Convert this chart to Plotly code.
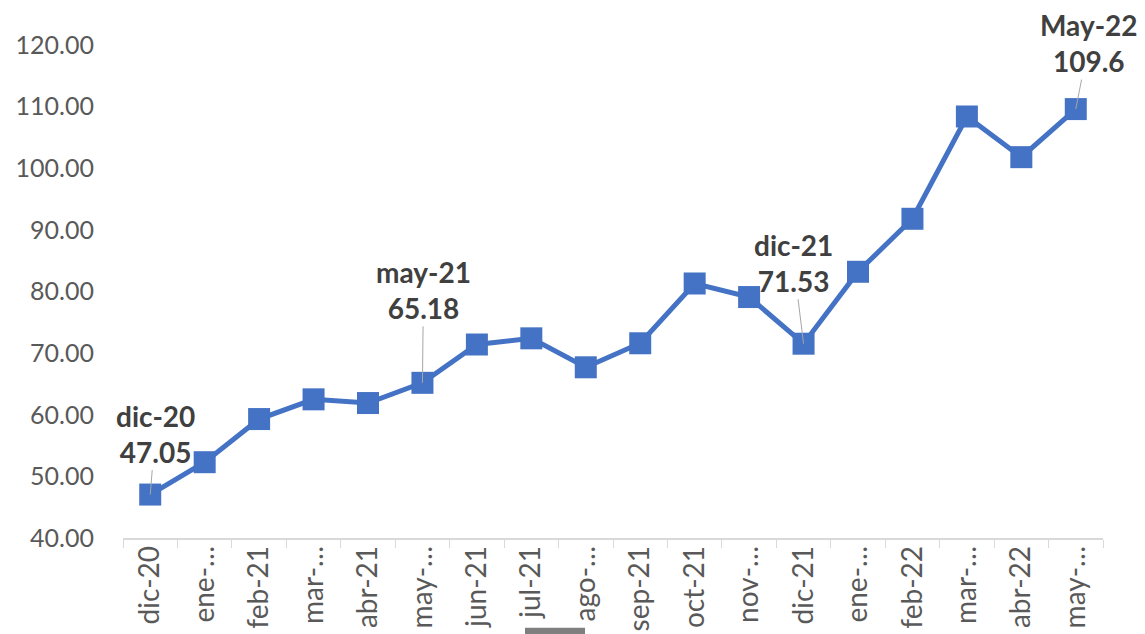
import plotly.graph_objects as go

categories = ["dic-20", "ene-21", "feb-21", "mar-21", "abr-21", "may-21", "jun-21", "jul-21", "ago-21",
              "sep-21", "oct-21", "nov-21", "dic-21", "ene-22", "feb-22", "mar-22", "abr-22", "may-22"]
tick_labels = ["dic-20", "ene-…", "feb-21", "mar-…", "abr-21", "may-…", "jun-21", "jul-21", "ago-…",
               "sep-21", "oct-21", "nov-…", "dic-21", "ene-…", "feb-22", "mar-…", "abr-22", "may-…"]
values = [47.05, 52.3, 59.3, 62.5, 61.9, 65.18, 71.4, 72.4, 67.7,
          71.6, 81.3, 79.1, 71.53, 83.2, 91.8, 108.4, 101.8, 109.6]

labels = [("dic-20", "dic-20<br>47.05", 5, -61),
          ("may-21", "may-21<br>65.18", 1, -93),
          ("dic-21", "dic-21<br>71.53", -10, -81),
          ("may-22", "May-22<br>109.6", 13, -66)]

fig = go.Figure()
fig.add_trace(go.Scatter(
    x=categories, y=values, mode="lines+markers",
    line=dict(color="#4472C4", width=5),
    marker=dict(symbol="square", size=22, color="#4472C4"),
    hoverinfo="x+y", showlegend=False))

for cat, txt, ax, ay in labels:
    fig.add_annotation(x=cat, y=values[categories.index(cat)], text="<b>" + txt + "</b>",
                       showarrow=True, arrowhead=0, arrowwidth=1, arrowcolor="#a6a6a6",
                       ax=ax, ay=ay, font=dict(size=28, color="#404040", family="Lato"),
                       align="center")

fig.add_shape(type="rect", xref="paper", yref="paper", x0=(525 - 123) / 980, x1=(585 - 123) / 980,
              y0=-0.195, y1=-0.182, fillcolor="#7f7f7f", line=dict(width=0))

# page body has an 8px margin, so the figure is offset by 8px
fig.update_layout(
    width=1137, height=626,
    margin=dict(l=115, r=42, t=37, b=96, autoexpand=False),
    paper_bgcolor="white", plot_bgcolor="white",
    font=dict(family="Lato", color="#595959", size=20),
    xaxis=dict(tickmode="array", tickvals=categories, ticktext=tick_labels, tickangle=-90,
               showgrid=False, showline=True, linecolor="#d9d9d9", linewidth=1.5,
               ticks="outside", tickson="boundaries", ticklen=8, tickcolor="#d9d9d9",
               ticklabelstandoff=-5,
               tickfont=dict(size=28, color="#595959"), range=[-0.5, 17.5], automargin=False),
    yaxis=dict(range=[40, 120], dtick=10, tickformat=".2f", showgrid=False, zeroline=False,
               showline=False, ticks="", ticklabelstandoff=28, automargin=False,
               tickfont=dict(size=25, color="#595959")),
)

fig.write_html("out.html")
